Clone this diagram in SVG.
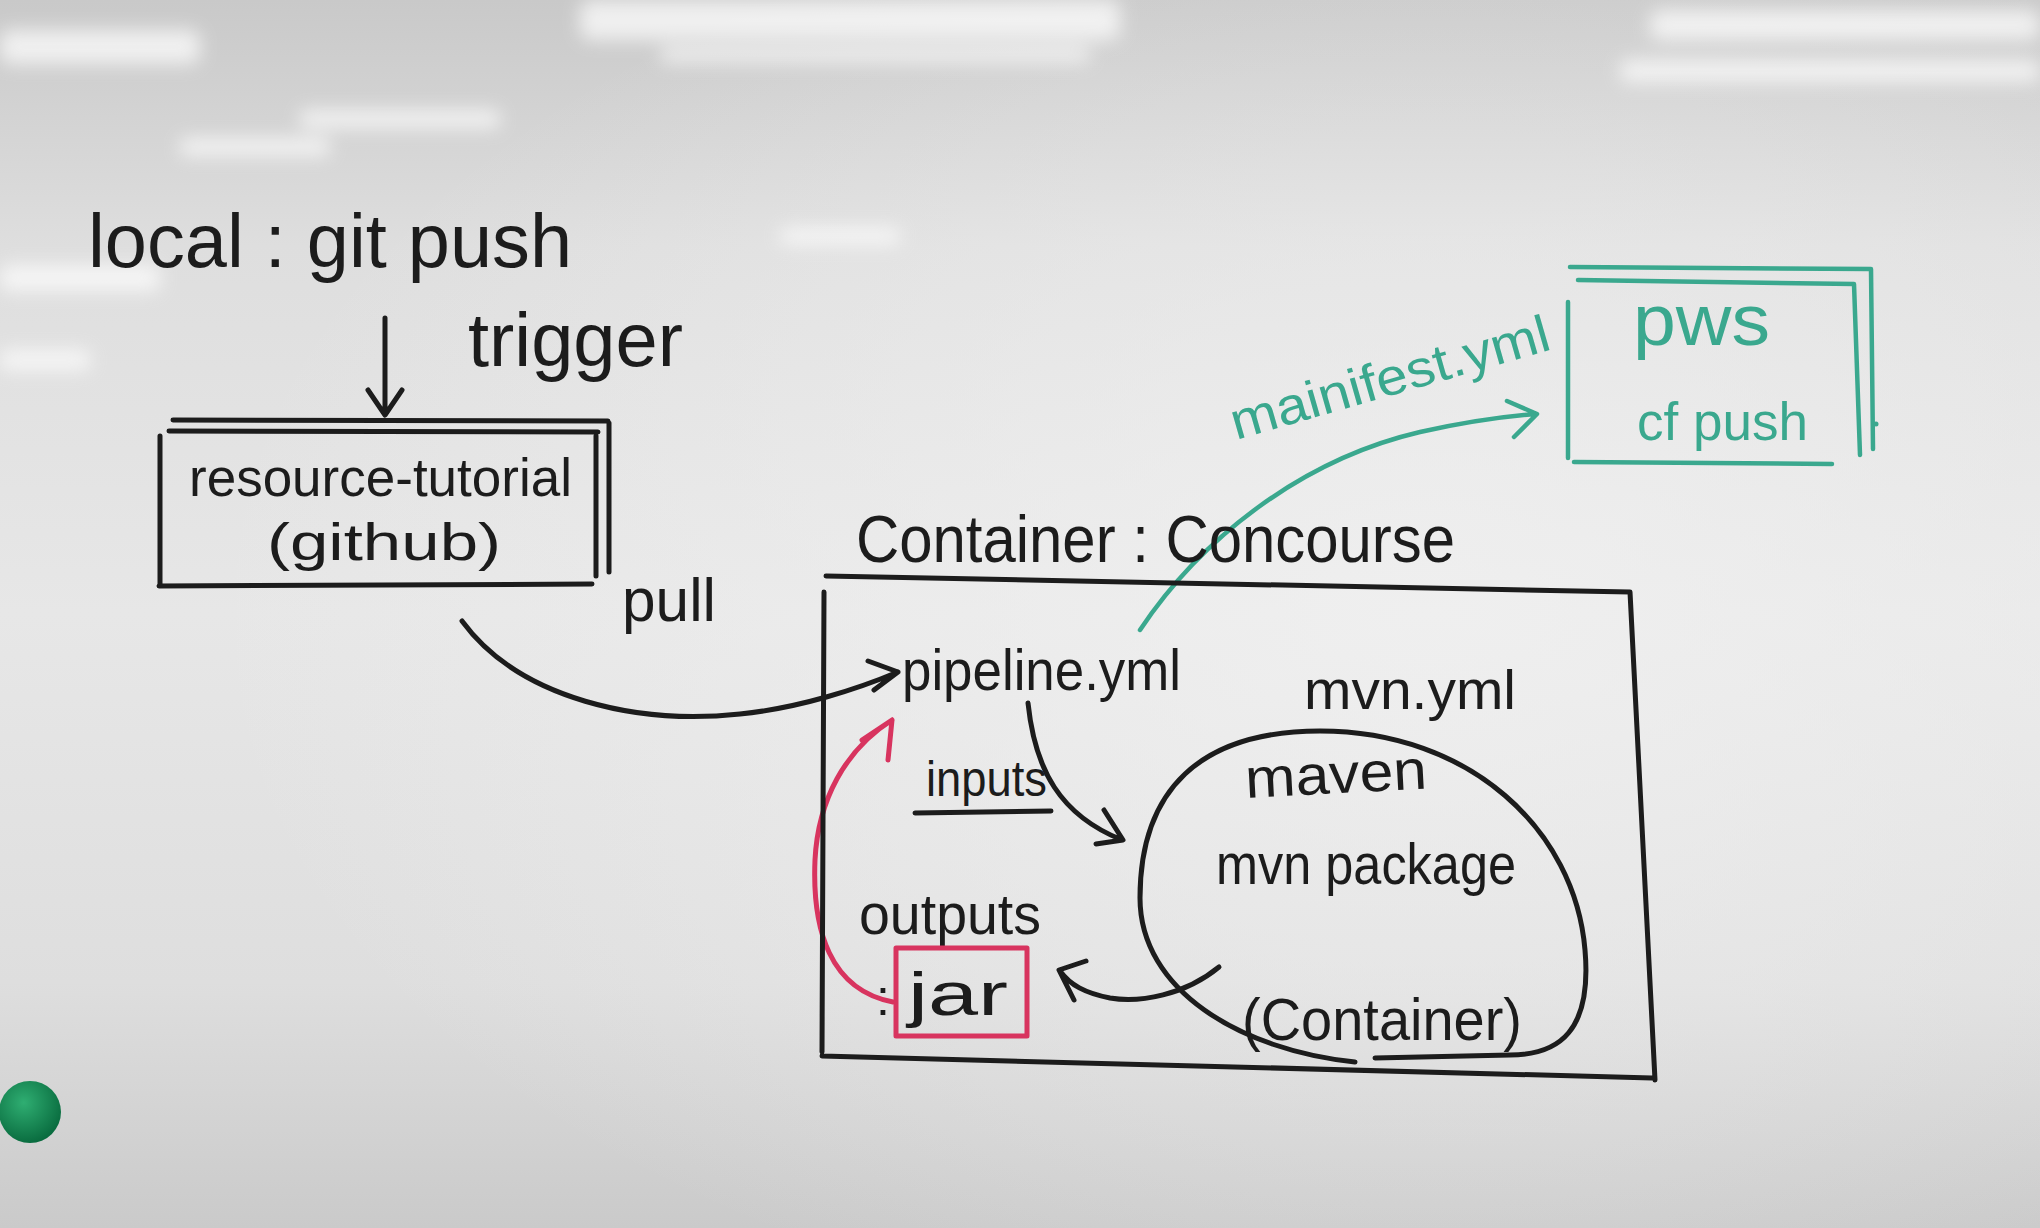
<svg xmlns="http://www.w3.org/2000/svg" width="2040" height="1228" viewBox="0 0 2040 1228">
<style>
  .t { font-family: "Liberation Sans", "DejaVu Sans", sans-serif; fill: #1c1c1c; }
  .tg { font-family: "Liberation Sans", "DejaVu Sans", sans-serif; fill: #3aa88e; }
  .k { fill: none; stroke: #1c1c1c; stroke-width: 5; stroke-linecap: round; stroke-linejoin: round; }
  .g { fill: none; stroke: #3aa88e; stroke-width: 4.5; stroke-linecap: round; stroke-linejoin: round; }
  .r { fill: none; stroke: #d8345f; stroke-width: 5; stroke-linecap: round; stroke-linejoin: round; }
</style>
<defs>
  <linearGradient id="bg" x1="0" y1="0" x2="0" y2="1">
    <stop offset="0" stop-color="#c9c9c9"/>
    <stop offset="0.2" stop-color="#dedede"/>
    <stop offset="0.5" stop-color="#e7e7e7"/>
    <stop offset="0.8" stop-color="#dedede"/>
    <stop offset="1" stop-color="#cacaca"/>
  </linearGradient>
  <radialGradient id="lite" cx="0.7" cy="0.5" r="0.6">
    <stop offset="0" stop-color="#f1f1f1" stop-opacity="0.8"/>
    <stop offset="1" stop-color="#f1f1f1" stop-opacity="0"/>
  </radialGradient>
  <filter id="blur" x="-20%" y="-80%" width="140%" height="260%">
    <feGaussianBlur stdDeviation="9"/>
  </filter>
  <radialGradient id="mag" cx="0.4" cy="0.35" r="0.7">
    <stop offset="0" stop-color="#2fae72"/>
    <stop offset="1" stop-color="#07683c"/>
  </radialGradient>
</defs>

<rect x="0" y="0" width="2040" height="1228" fill="url(#bg)"/>
<rect x="0" y="0" width="2040" height="1228" fill="url(#lite)"/>

<g id="glare" fill="#ffffff" opacity="0.7" filter="url(#blur)">
  <rect x="580" y="0" width="540" height="40" rx="10"/>
  <rect x="660" y="48" width="430" height="14" rx="6"/>
  <rect x="0" y="30" width="200" height="34" rx="10"/>
  <rect x="1650" y="10" width="390" height="30" rx="10"/>
  <rect x="1620" y="60" width="420" height="22" rx="8"/>
  <rect x="300" y="110" width="200" height="18" rx="6"/>
  <rect x="180" y="138" width="150" height="18" rx="6"/>
  <rect x="0" y="265" width="160" height="26" rx="8"/>
  <rect x="780" y="228" width="120" height="16" rx="6"/>
  <rect x="0" y="350" width="90" height="20" rx="6"/>
</g>

<g id="connectors">
  <path id="c-trigger" class="k" d="M385,318 L385,414 M368,390 L385,415 L402,390"/>
  <path id="c-pull" class="k" d="M462,621 C520,700 640,725 740,714 C800,708 860,688 898,672 M868,661 L898,672 L874,690"/>
  <path id="c-inputs" class="k" d="M1028,703 C1035,770 1060,815 1122,840 M1104,810 L1123,840 L1096,844"/>
  <path id="c-outputs" class="k" d="M1219,967 C1185,995 1140,1003 1110,998 C1085,993 1070,985 1060,971 M1086,961 L1059,970 L1074,1000"/>
  <path id="c-jar-back" class="r" d="M893,1002 C830,990 812,930 815,860 C818,800 845,750 892,720 M862,740 L892,720 L888,760"/>
  <path id="c-deploy" class="g" d="M1140,630 C1200,540 1300,460 1420,432 C1470,421 1510,416 1536,414 M1507,401 L1537,414 L1514,437"/>
</g>

<g id="local">
  <text class="t" x="88" y="267" font-size="76" textLength="484" lengthAdjust="spacingAndGlyphs">local : git push</text>
</g>

<g id="trigger-label">
  <text class="t" x="468" y="366" font-size="76" textLength="215" lengthAdjust="spacingAndGlyphs">trigger</text>
</g>

<g id="resource-tutorial">
  <path class="k" d="M173,420 L608,421 M169,431 L598,432 M160,436 L160,586 M159,586 L592,584 M596,436 L596,576 M609,423 L609,572"/>
  <text class="t" x="189" y="496" font-size="54" textLength="383" lengthAdjust="spacingAndGlyphs">resource-tutorial</text>
  <text class="t" x="267" y="560" font-size="52" textLength="234" lengthAdjust="spacingAndGlyphs">(github)</text>
</g>

<g id="pull-label">
  <text class="t" x="622" y="621" font-size="62" textLength="94" lengthAdjust="spacingAndGlyphs">pull</text>
</g>

<g id="concourse">
  <text class="t" x="856" y="562" font-size="66" textLength="599" lengthAdjust="spacingAndGlyphs">Container : Concourse</text>
  <path class="k" d="M826,576 L1630,592 L1655,1080 M824,592 L822,1052 M822,1056 L1652,1078"/>
</g>

<g id="pipeline">
  <text class="t" x="902" y="690" font-size="58" textLength="279" lengthAdjust="spacingAndGlyphs">pipeline.yml</text>
</g>

<g id="inputs-label">
  <text class="t" x="926" y="796" font-size="50" textLength="121" lengthAdjust="spacingAndGlyphs">inputs</text>
  <path class="k" d="M915,813 L1051,811"/>
</g>

<g id="maven">
  <text class="t" x="1304" y="709" font-size="56" textLength="212" lengthAdjust="spacingAndGlyphs">mvn.yml</text>
  <path class="k" d="M1355,1062 C1240,1050 1140,990 1140,898 C1140,790 1200,731 1320,731 C1470,731 1575,830 1585,950 C1592,1030 1560,1055 1510,1055 L1375,1058"/>
  <text class="t" x="1246" y="798" font-size="56" textLength="182" lengthAdjust="spacingAndGlyphs" transform="rotate(-3 1246 798)">maven</text>
  <text class="t" x="1216" y="884" font-size="58" textLength="300" lengthAdjust="spacingAndGlyphs">mvn package</text>
  <text class="t" x="1242" y="1040" font-size="60" textLength="280" lengthAdjust="spacingAndGlyphs">(Container)</text>
</g>

<g id="outputs">
  <text class="t" x="859" y="934" font-size="58" textLength="182" lengthAdjust="spacingAndGlyphs">outputs</text>
  <text class="t" x="876" y="1015" font-size="50">:</text>
  <rect class="r" x="896" y="948" width="131" height="88"/>
  <text class="t" x="908" y="1015" font-size="62" textLength="100" lengthAdjust="spacingAndGlyphs">jar</text>
</g>

<g id="manifest-label">
  <text class="tg" x="1236" y="440" font-size="52" textLength="330" lengthAdjust="spacingAndGlyphs" transform="rotate(-16 1236 440)">mainifest.yml</text>
</g>

<g id="pws">
  <path class="g" d="M1570,267 L1871,269 L1873,449 M1578,280 L1854,284 L1860,455 M1568,302 L1568,458 M1574,462 L1832,464"/>
  <circle cx="1876" cy="424" r="2.5" fill="#3aa88e"/>
  <text class="tg" x="1633" y="345" font-size="72" textLength="137" lengthAdjust="spacingAndGlyphs">pws</text>
  <text class="tg" x="1637" y="440" font-size="54" textLength="171" lengthAdjust="spacingAndGlyphs">cf push</text>
</g>

<g id="magnet">
  <circle cx="30" cy="1112" r="31" fill="url(#mag)"/>
</g>
</svg>
